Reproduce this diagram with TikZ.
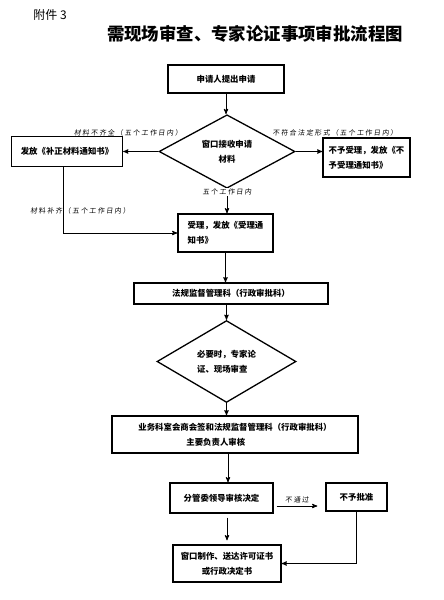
\documentclass[tikz,border=0pt]{standalone}
\usepackage{fontspec}
\setmainfont{Liberation Sans}
\newfontfamily\cjk{Noto Sans CJK SC}
\newfontfamily\cjknote[LetterSpace=22,FakeSlant=0.12]{Noto Sans CJK SC}
\usetikzlibrary{arrows,shapes.geometric,positioning}
\tikzset{
  >=stealth',
  stepbox/.style={rectangle, draw=black, line width=1.3pt, inner sep=2pt,
                  font=\cjk\bfseries\fontsize{8.4}{15}\selectfont},
  check/.style={diamond, draw=black, line width=1.3pt, inner sep=0pt, align=left,
                font=\cjk\bfseries\fontsize{8.4}{15}\selectfont},
  line/.style={draw, line width=0.9pt, ->},
  note/.style={font=\cjknote\fontsize{6.9}{7}\selectfont, inner sep=1pt}
}

\begin{document}
\begin{tikzpicture}[x=1pt,y=-1pt]
    \useasboundingbox (0,0) rectangle (444,600);
    % Header
    \node (annex) at (50,15) {\cjk\fontsize{12}{12}\selectfont 附件 3};
    \node (title) at (255,34) {\cjk\bfseries\fontsize{17.4}{18}\selectfont 需现场审查、专家论证事项审批流程图};
    % Boxes and decisions
    \node (apply) [stepbox, minimum width=116pt, minimum height=28pt] at (226,79) {申请人提出申请};
    \node (receive) [check, minimum width=136pt, minimum height=65pt, align=center] at (227,151.5) {窗口接收申请\\材料};
    \node (patch) [stepbox, minimum width=111pt, minimum height=30pt, align=left] at (67,151.5) {发放《补正材料通知书》};
    \node (reject) [stepbox, minimum width=87pt, minimum height=39pt, align=left] at (366.5,157.5) {不予受理，发放《不\\予受理通知书》};
    \node (accept) [stepbox, minimum width=95pt, minimum height=38pt, align=left] at (225.5,233) {受理，发放《受理通\\知书》};
    \node (law) [stepbox, minimum width=194pt, minimum height=21pt] at (231,293.5) {法规监督管理科（行政审批科）};
    \node (review) [check, minimum width=139pt, minimum height=63pt] at (226.5,361.5) {必要时，专家论\\证、现场审查};
    \node (joint) [stepbox, minimum width=246pt, minimum height=37pt, align=left] at (235,434.5)
          {业务科室会商会签和法规监督管理科（行政审批科）\\\hspace*{48pt}主要负责人审核};
    \node (decide) [stepbox, minimum width=103pt, minimum height=30pt] at (221.5,498) {分管委领导审核决定};
    \node (deny) [stepbox, minimum width=61pt, minimum height=28pt] at (356.5,497) {不予批准};
    \node (issue) [stepbox, minimum width=108pt, minimum height=37pt, align=center] at (227,563.5) {窗口制作、送达许可证书\\或行政决定书};
    % Connectors
    \draw [line] (apply.south) -- (apply.south |- receive.north);
    \draw [line] (receive.west) -- (patch.east);
    \draw [line] (receive.east) -- (receive.east -| reject.west);
    \draw [line] (receive.south) -- (receive.south |- accept.north);
    \draw [line] ([xshift=-4pt]patch.south) |- (accept.west);
    \draw [line] (accept.south) -- (accept.south |- law.north);
    \draw [line] (review.north |- law.south) -- (review.north);
    \draw [line] (review.south) -- (review.south |- joint.north);
    \draw [line] ([xshift=-7pt]joint.south) -- ([xshift=-7pt]joint.south |- decide.north);
    \draw [line, shorten <=4pt, shorten >=4pt] (issue.north |- decide.south) -- (issue.north);
    \draw [line, shorten <=3pt, shorten >=8pt] ([yshift=-8pt]decide.east) -- ([yshift=-8pt]decide.east -| deny.west);
    \draw [line] (deny.south) |- (issue.east);
    % Notes on the connectors
    \node (short) [note] at (128,133) {材料不齐全（五个工作日内）};
    \node (form) [note] at (335,133) {不符合法定形式（五个工作日内）};
    \node (days) [note, fill=white] at (227,192) {五个工作日内};
    \node (filled) [note] at (80,211) {材料补齐（五个工作日内）};
    \node (fail) [note] at (297,500) {不通过};
\end{tikzpicture}
\end{document}
